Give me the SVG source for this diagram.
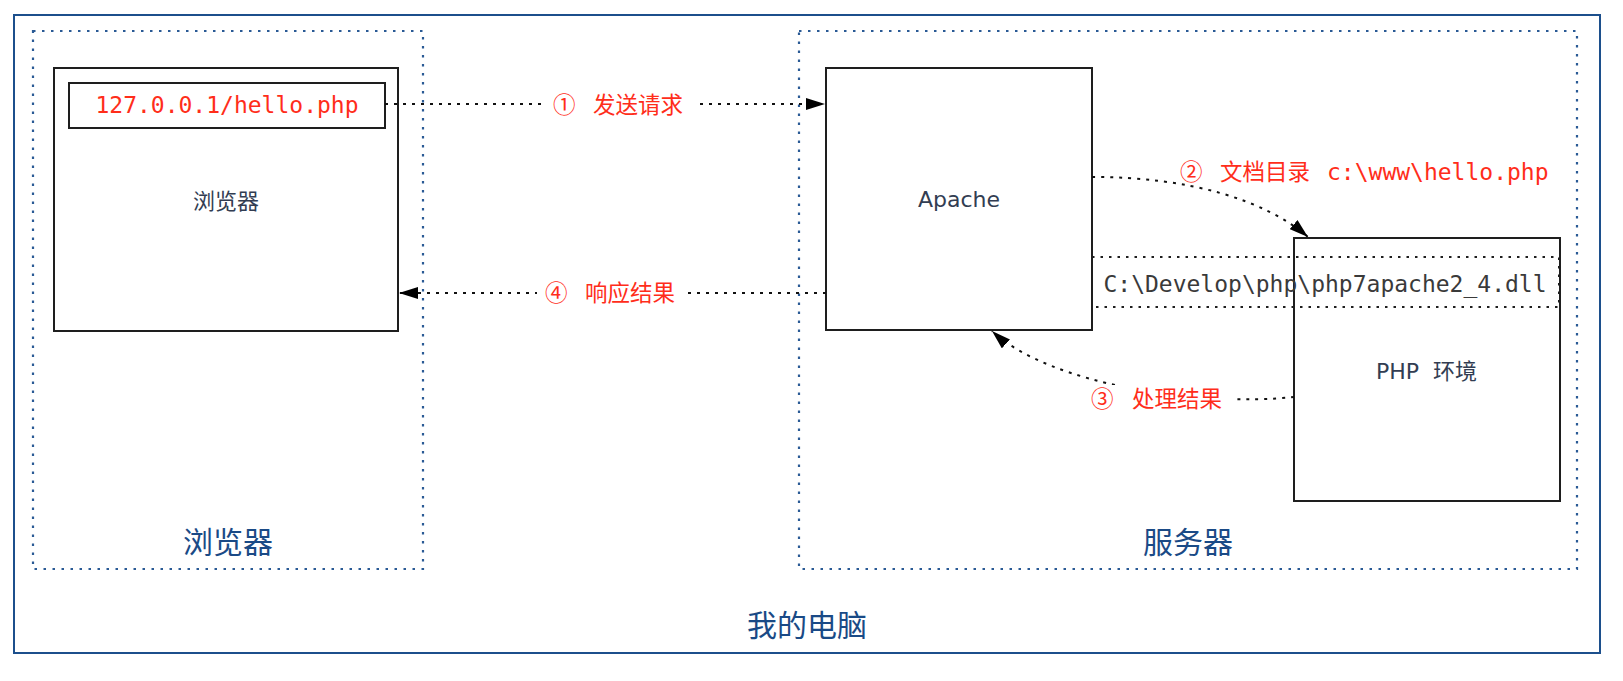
<svg xmlns="http://www.w3.org/2000/svg" width="1623" height="681" viewBox="0 0 1623 681">
<style>
.frame{fill:none;stroke:#1c4f8c;stroke-width:2}
.grp{fill:none;stroke:#2a5a95;stroke-width:2.2;stroke-dasharray:2.5 6.5}
.box{fill:#fff;stroke:#1e1e1e;stroke-width:2}
.band{fill:none;stroke:#1e1e1e;stroke-width:2;stroke-dasharray:2.5 6}
.conn{fill:none;stroke:#111;stroke-width:2;stroke-dasharray:3 6}
.lbl{font-family:"Noto Sans CJK SC",sans-serif;font-size:22.5px;fill:#ff2d1a}
.mono{font-family:"DejaVu Sans Mono",monospace;font-size:23px}
.node{font-family:"DejaVu Sans","Noto Sans CJK SC",sans-serif;font-size:22px;fill:#323d52;text-anchor:middle}
.title{font-family:"Noto Sans CJK SC",sans-serif;font-size:30px;fill:#1a4a86;text-anchor:middle}
.bg{fill:#fff}
</style>
<defs>
<marker id="arr" viewBox="0 0 19 12" refX="19" refY="6" markerWidth="19" markerHeight="12" markerUnits="userSpaceOnUse" orient="auto">
<path d="M0,0 L19,6 L0,12 z" fill="#000"/>
</marker>
</defs>
<rect width="1623" height="681" fill="#fff"/>
<g id="computer">
<rect class="frame" x="14" y="15" width="1586" height="638"/>
<text class="title" x="807" y="636">我的电脑</text>
</g>
<g id="browser-group">
<rect class="grp" x="33" y="31" width="390" height="538"/>
<text class="title" x="228" y="553">浏览器</text>
</g>
<g id="server-group">
<rect class="grp" x="799" y="31" width="778" height="538"/>
<text class="title" x="1188" y="553">服务器</text>
</g>
<g id="browser">
<rect class="box" x="54" y="68" width="344" height="263"/>
<text class="node" x="226" y="209">浏览器</text>
</g>
<g id="url">
<rect class="box" x="69" y="83" width="316" height="45"/>
<text class="mono" x="227" y="113" fill="#ff2d1a" text-anchor="middle">127.0.0.1/hello.php</text>
</g>
<g id="apache">
<rect class="box" x="826" y="68" width="266" height="262"/>
<text class="node" x="959" y="207">Apache</text>
</g>
<g id="php">
<rect class="box" x="1294" y="238" width="266" height="263"/>
<text class="node" y="379" text-anchor="start" style="text-anchor:start"><tspan x="1376">PHP </tspan><tspan x="1433">环境</tspan></text>
</g>
<g id="dll">
<rect class="band" x="1092" y="257" width="467" height="50"/>
<text class="mono" x="1325" y="292" fill="#3a3a3a" text-anchor="middle">C:\Develop\php\php7apache2_4.dll</text>
</g>
<g id="connectors">
<path class="conn" d="M385,104 H825" marker-end="url(#arr)"/>
<path class="conn" d="M826,293 H399" marker-end="url(#arr)"/>
<path class="conn" d="M1092,177 C1190,177 1265,200 1308,237" marker-end="url(#arr)"/>
<path class="conn" d="M1294,397 C1200,407 1050,385 992,331" marker-end="url(#arr)"/>
<rect class="bg" x="542" y="90" width="153" height="30"/>
<text class="lbl" y="113"><tspan x="553">① </tspan><tspan x="593">发送请求</tspan></text>
<rect class="bg" x="537" y="279" width="150" height="30"/>
<text class="lbl" y="301"><tspan x="545">④ </tspan><tspan x="585">响应结果</tspan></text>
<text class="lbl" y="180"><tspan x="1180">② </tspan><tspan x="1220">文档目录 </tspan><tspan x="1327" class="mono">c:\www\hello.php</tspan></text>
<rect class="bg" x="1083" y="385" width="150" height="30"/>
<text class="lbl" y="407"><tspan x="1091">③ </tspan><tspan x="1132">处理结果</tspan></text>
</g>
</svg>
